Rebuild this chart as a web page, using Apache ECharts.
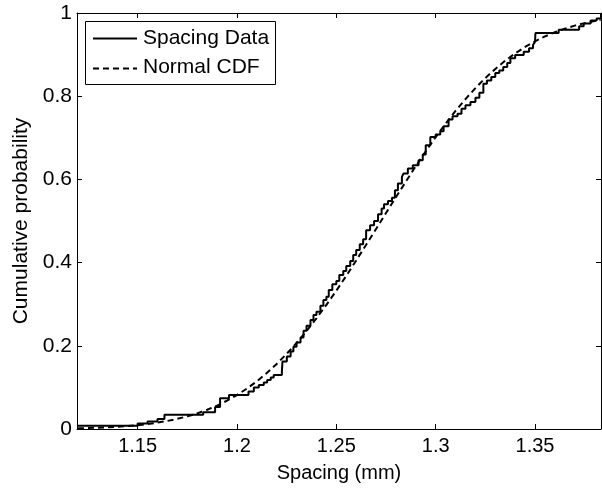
<!DOCTYPE html>
<html>
<head>
<meta charset="utf-8">
<script src="https://cdn.jsdelivr.net/npm/echarts@6/dist/echarts.min.js"></script>
<style>html,body{margin:0;padding:0;background:#fff}#c{width:602px;height:488px}</style>
</head>
<body>
<div id="c"></div>
<script>
// Empirical CDF (sorted spacing values and cumulative level after each step)
const ecdfX = [1.1197,1.1500,1.1550,1.1600,1.1635,1.1830,1.1890,1.1915,1.1960,1.2058,1.2085,1.2110,1.2135,1.2152,1.2170,1.2185,1.2226,1.2229,1.2251,1.2270,1.2284,
1.2300,1.2320,1.2335,1.2350,1.2370,1.2385,1.2400,1.2420,1.2435,1.2450,1.2462,1.2480,1.2500,1.2515,1.2535,1.2550,1.2570,1.2585,1.2600,1.2618,1.2635,1.2650,1.2670,1.2690,1.2710,1.2728,1.2740,1.2760,1.2780,1.2795,1.2810,1.2830,1.2838,1.2860,1.2885,1.2914,1.2935,1.2950,1.2973,1.3000,1.3023,1.3040,1.3065,1.3085,1.3110,1.3130,1.3150,1.3175,1.3200,1.3220,1.3240,1.3258,1.3280,1.3300,1.3320,1.3340,1.3360,1.3376,1.3400,1.3443,1.3470,1.3490,1.3500,1.3502,1.3619,1.3722,1.3745,1.3780,1.3810,1.3832];
const ecdfY = [0.008,0.013,0.018,0.024,0.034,0.040,0.053,0.074,0.082,0.090,0.100,0.106,0.112,0.118,0.124,0.130,0.138,0.162,0.174,0.186,0.198,
0.208,0.220,0.236,0.248,0.262,0.274,0.282,0.296,0.310,0.318,0.334,0.348,0.356,0.370,0.380,0.392,0.404,0.418,0.430,0.444,0.456,0.478,0.490,0.500,0.516,0.530,0.540,0.548,0.556,0.574,0.590,0.606,0.614,0.626,0.634,0.646,0.660,0.682,0.702,0.708,0.716,0.728,0.744,0.752,0.758,0.770,0.778,0.786,0.796,0.808,0.830,0.838,0.846,0.856,0.862,0.870,0.880,0.891,0.899,0.907,0.915,0.923,0.931,0.952,0.960,0.968,0.975,0.982,0.987,1.000];
// Fitted normal CDF
const normX = [1.120,1.125,1.130,1.135,1.140,1.145,1.150,1.155,1.160,1.165,1.170,1.175,1.180,1.185,1.190,1.195,1.200,1.205,1.210,1.215,1.220,1.225,1.230,1.235,1.240,1.245,1.250,1.255,1.260,1.265,1.270,1.275,1.280,1.285,1.290,1.295,1.300,1.305,1.310,1.315,1.320,1.325,1.330,1.335,1.340,1.345,1.350,1.355,1.360,1.365,1.370,1.375,1.380,1.383];
const normY = [0.0017,0.0023,0.0031,0.0041,0.0054,0.0071,0.0092,0.0119,0.0153,0.0194,0.0244,0.0304,0.0376,0.0462,0.0563,0.0681,0.0816,0.0971,0.1147,0.1344,0.1563,0.1806,0.2069,0.2355,0.2660,0.2984,0.3325,0.3681,0.4052,0.4427,0.4809,0.5191,0.5573,0.5948,0.6319,0.6675,0.7016,0.7340,0.7645,0.7931,0.8194,0.8437,0.8656,0.8853,0.9029,0.9184,0.9319,0.9437,0.9538,0.9624,0.9696,0.9756,0.9806,0.9832];
const xTicks = [1.15,1.2,1.25,1.3,1.35];
const yTicks = [0,0.2,0.4,0.6,0.8,1];
const xName = 'Spacing (mm)';
const yName = 'Cumulative probability';
const seriesNames = ['Spacing Data','Normal CDF'];
const xMin = 1.1195, xMax = 1.3832;

const FONT = '"Liberation Sans", Arial, Helvetica, sans-serif';
const chart = echarts.init(document.getElementById('c'), null, {renderer:'canvas'});
const fmt = v => String(+(+v).toFixed(2));
const axisLineStyle = {color:'#000', width:1};
const DASH = [6,4];
function xAx(pos, labels){
  return {
    type:'value', position:pos, min:xMin, max:xMax,
    axisLine:{show:true, onZero:false, lineStyle:axisLineStyle},
    axisTick:{show:true, inside:true, length:5, lineStyle:axisLineStyle, customValues:xTicks},
    axisLabel:{show:labels, customValues:xTicks, formatter:fmt, color:'#000', fontFamily:FONT, fontSize:20, margin:7},
    splitLine:{show:false},
    name: labels ? xName : '', nameLocation:'middle', nameGap:34,
    nameTextStyle:{color:'#000', fontFamily:FONT, fontSize:20}
  };
}
function yAx(pos, labels){
  return {
    type:'value', position:pos, min:0, max:1,
    axisLine:{show:true, onZero:false, lineStyle:axisLineStyle},
    axisTick:{show:true, inside:true, length:5, lineStyle:axisLineStyle, customValues:yTicks},
    axisLabel:{show:labels, customValues:yTicks, formatter:fmt, color:'#000', fontFamily:FONT, fontSize:21, margin:5},
    splitLine:{show:false},
    name: labels ? yName : '', nameLocation:'middle', nameGap:43, nameRotate:90,
    nameTextStyle:{color:'#000', fontFamily:FONT, fontSize:21}
  };
}
// Legend drawn as real text with line samples
const legend = {
  type:'group', left:85, top:21,
  children:[
    {type:'rect', shape:{x:0.5, y:0.5, width:190, height:63}, style:{fill:'#fff', stroke:'#000', lineWidth:1}},
    {type:'line', shape:{x1:8, y1:17.5, x2:52, y2:17.5}, style:{stroke:'#000', lineWidth:2}},
    {type:'text', x:58, y:17, style:{text:seriesNames[0], fill:'#000', font:'21px ' + FONT, textVerticalAlign:'middle', verticalAlign:'middle'}},
    {type:'line', shape:{x1:8, y1:47.5, x2:52, y2:47.5}, style:{stroke:'#000', lineWidth:2, lineDash:DASH}},
    {type:'text', x:58, y:46, style:{text:seriesNames[1], fill:'#000', font:'21px ' + FONT, textVerticalAlign:'middle', verticalAlign:'middle'}}
  ]
};
chart.setOption({
  animation:false,
  backgroundColor:'#fff',
  grid:{left:77, right:1, top:13, bottom:59, containLabel:false},
  xAxis:[xAx('bottom', true), xAx('top', false)],
  yAxis:[yAx('left', true), yAx('right', false)],
  graphic:[legend],
  series:[
    {name:seriesNames[0], type:'line', step:'end', showSymbol:false, symbol:'none',
     data:ecdfX.map((x,i)=>[x, ecdfY[i]]),
     lineStyle:{color:'#000', width:2, type:'solid'}, z:3},
    {name:seriesNames[1], type:'line', showSymbol:false, symbol:'none', smooth:false,
     data:normX.map((x,i)=>[x, normY[i]]),
     lineStyle:{color:'#000', width:2, type:DASH}, z:2}
  ]
});
</script>
</body>
</html>
